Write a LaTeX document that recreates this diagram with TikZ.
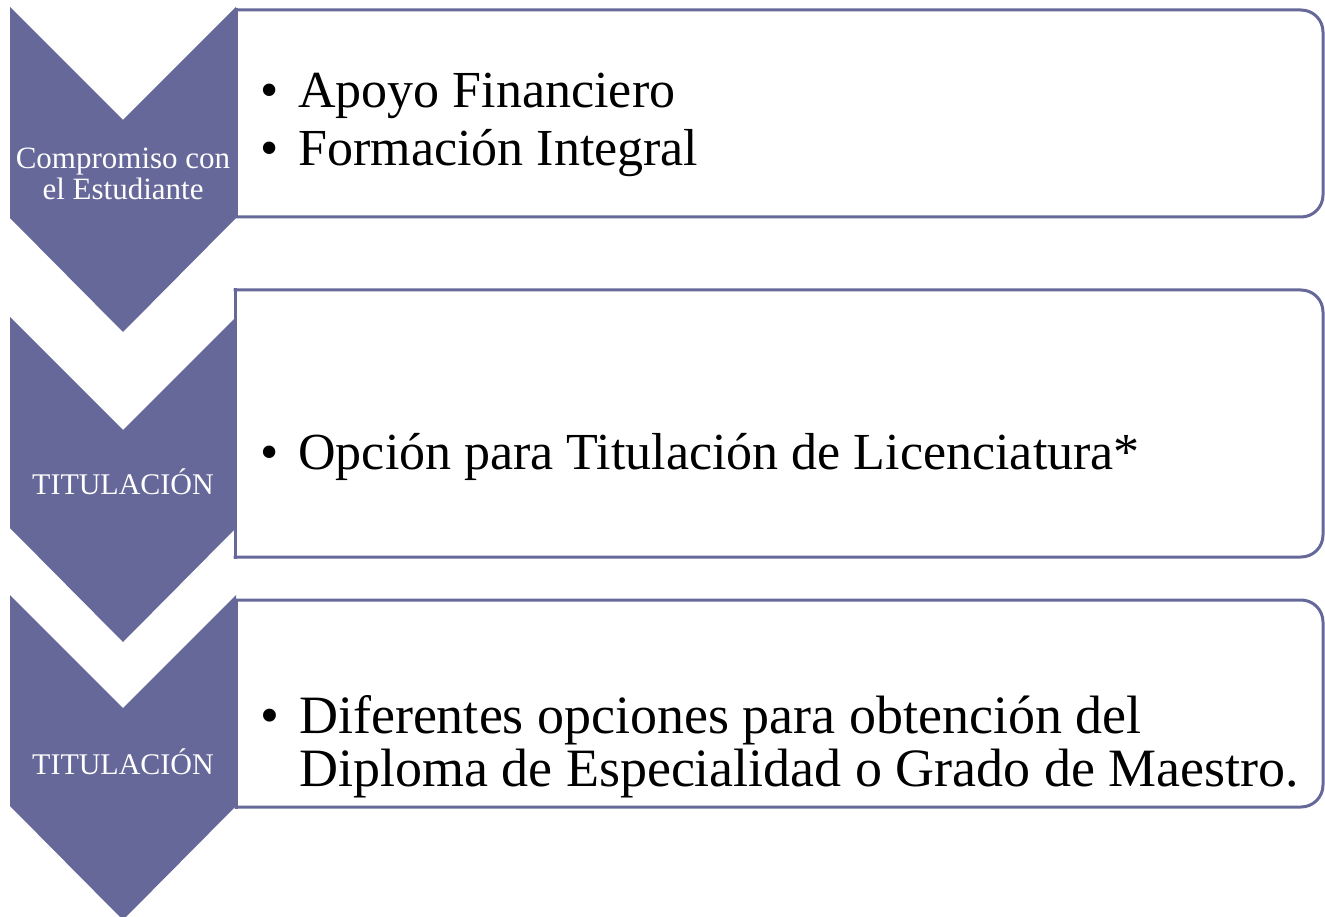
\documentclass[tikz,border=0pt]{standalone}
\usepackage{fontspec}
\setmainfont{Liberation Serif}
\definecolor{tim}{RGB}{102,104,154}
\begin{document}
\begin{tikzpicture}[x=1pt,y=-1pt,line join=miter,
 chevron/.style={fill=tim},
 hop/.style={draw=tim,line width=3pt,line cap=rect},
 nhan/.style={text=white,align=center,inner sep=0pt,font=\fontsize{30}{31}\selectfont},
 muc/.style={anchor=base west,inner sep=0pt,font=\fontsize{52}{58}\selectfont}]
\useasboundingbox (0,0) rectangle (1325,917);
% khung noi dung
\foreach \tren/\duoi/\trai in {10/217/236,290/557/235,600/807/236}{
\draw[hop,rounded corners=22pt] (\trai,\tren)--(1323,\tren)--(1323,\duoi)--(\trai,\duoi);
\draw[hop] (\trai,\duoi)--(\trai,\tren);}
% mui ten
\foreach \tren in {7,317,595}
\fill[chevron] (10,\tren)--(123,\tren+113)--(236,\tren)--(236,\tren+211)--(123,\tren+325)--(10,\tren+211)--cycle;
\path (123,174)node[nhan,font=\fontsize{31}{31}\selectfont](n1){Compromiso con\\el Estudiante}
 (123,482)node[nhan](n2){TITULACIÓN}
 (123,762)node[nhan](n3){TITULACIÓN};
% cac muc
\path (260,108)node[muc](m1){\begin{tabular}[t]{@{}l@{\hspace{20pt}}l@{}}\textbullet&Apoyo Financiero\\ \textbullet&Formación Integral\end{tabular}}
 (260,469)node[muc](m2){\begin{tabular}[t]{@{}l@{\hspace{20pt}}l@{}}\textbullet&Opción para Titulación de Licenciatura*\end{tabular}}
 (260,733)node[muc,font=\fontsize{54}{53}\selectfont](m3){\begin{tabular}[t]{@{}l@{\hspace{20pt}}l@{}}\textbullet&Diferentes opciones para obtención del\\ &Diploma de Especialidad o Grado de Maestro.\end{tabular}};
\end{tikzpicture}
\end{document}
